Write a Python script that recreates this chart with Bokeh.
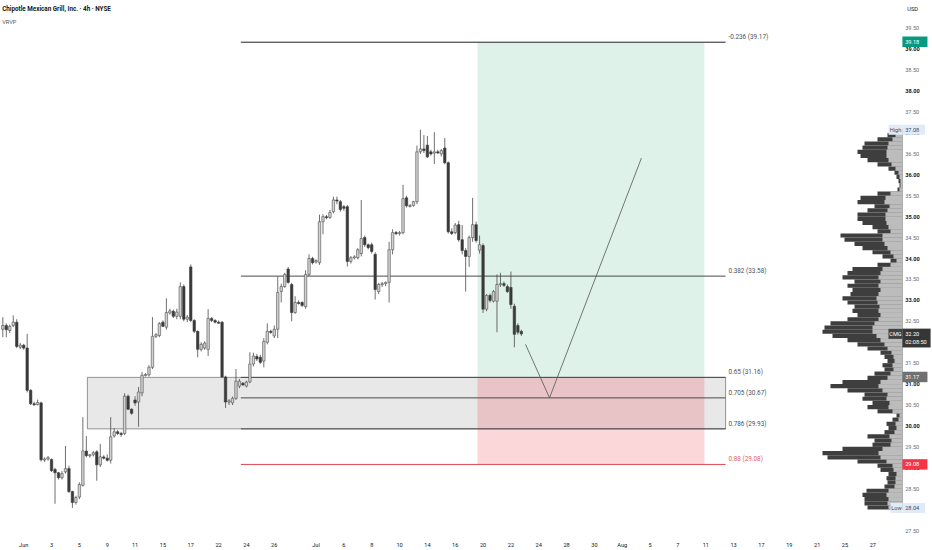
import numpy as np
from bokeh.plotting import figure
from bokeh.models import Range1d, FixedTicker
from bokeh.core.properties import value
from bokeh.embed import file_html
from bokeh.resources import INLINE

FONT = "Roboto"

# ---------------- data: 4h candles (bar 0 = first bar of Jun 1) ----------------
first_bar = -6
opens = [
    32.31, 32.40, 32.28, 32.40, 32.48, 31.88, 31.93, 31.86, 30.85, 30.53,
    30.51, 30.55, 29.19, 29.21, 29.20, 28.96, 28.88, 28.76, 28.90, 28.98,
    28.43, 28.17, 28.30, 28.58, 29.40, 29.29, 29.31, 29.38, 29.07, 29.26,
    29.23, 29.18, 29.76, 29.86, 29.82, 29.82, 30.71, 30.40, 30.62, 30.57,
    30.79, 31.21, 31.22, 31.40, 32.14, 32.16, 32.48, 32.36, 32.70, 32.74,
    32.62, 32.62, 33.33, 32.55, 33.80, 32.52, 32.26, 31.83, 31.86, 31.83,
    32.57, 32.52, 32.48, 32.48, 31.17, 30.57, 30.55, 30.66, 30.95, 31.02,
    30.95, 31.05, 31.48, 31.66, 31.64, 31.55, 32.00, 32.26, 32.15, 32.31,
    33.21, 33.33, 33.75, 33.38, 32.71, 32.95, 32.95, 32.85, 33.62, 34.00,
    33.92, 33.90, 34.88, 35.00, 34.98, 35.12, 35.40, 35.36, 35.24, 35.24,
    33.93, 34.02, 34.02, 34.12, 34.50, 34.33, 34.33, 34.10, 33.21, 33.38,
    33.40, 33.43, 34.21, 34.62, 34.60, 34.62, 35.45, 35.26, 35.27, 35.36,
    36.55, 36.62, 36.71, 36.55, 36.52, 36.55, 36.50, 36.64, 36.29, 34.64,
    34.62, 34.81, 34.45, 34.19, 34.05, 34.50, 34.81, 34.20, 34.31, 32.79,
    33.12, 32.98, 32.98, 33.38, 33.40, 33.33, 33.31, 32.86, 32.40, 32.26,
]
highs = [
    32.60, 32.45, 32.42, 32.64, 32.55, 31.98, 31.96, 32.20, 30.88, 30.58,
    30.63, 30.58, 29.25, 29.28, 29.22, 29.00, 28.90, 28.92, 29.52, 29.05,
    28.45, 28.33, 28.65, 30.21, 29.76, 29.33, 29.40, 29.42, 29.57, 29.30,
    29.32, 30.21, 29.95, 29.90, 29.86, 30.78, 30.75, 30.42, 30.71, 30.93,
    31.29, 31.26, 31.45, 32.60, 32.22, 32.48, 32.52, 33.05, 32.80, 32.78,
    32.80, 33.43, 33.38, 32.65, 33.86, 32.55, 32.28, 32.00, 32.02, 32.79,
    32.60, 32.55, 32.52, 32.50, 31.20, 30.64, 30.70, 31.36, 31.12, 31.05,
    31.08, 31.76, 31.75, 31.72, 31.70, 32.10, 32.45, 32.30, 32.40, 33.57,
    33.40, 33.66, 33.80, 33.42, 33.10, 33.00, 32.98, 33.72, 34.10, 34.04,
    33.98, 35.05, 35.06, 35.04, 35.16, 35.48, 35.48, 35.40, 35.28, 35.28,
    34.06, 34.08, 34.25, 35.40, 34.55, 34.36, 34.38, 34.15, 33.42, 33.44,
    33.45, 34.40, 34.70, 34.66, 34.66, 35.76, 35.50, 35.30, 35.38, 36.70,
    37.08, 36.95, 36.93, 36.60, 37.02, 36.60, 36.62, 36.88, 36.32, 34.72,
    34.85, 34.90, 34.80, 34.25, 34.55, 35.45, 34.88, 34.55, 34.36, 33.15,
    33.16, 33.25, 33.62, 33.66, 33.45, 33.38, 33.69, 32.92, 32.45, 32.30,
]
lows = [
    32.12, 32.12, 32.22, 32.36, 31.86, 31.84, 31.82, 30.80, 30.50, 30.48,
    30.49, 29.15, 29.14, 29.17, 28.90, 28.14, 28.72, 28.72, 28.86, 28.40,
    28.04, 28.12, 28.25, 28.55, 29.25, 29.24, 29.27, 28.69, 29.02, 29.20,
    29.15, 29.10, 29.72, 29.78, 29.74, 29.78, 30.38, 30.27, 30.48, 29.98,
    30.71, 31.18, 31.18, 31.36, 32.10, 32.12, 32.36, 32.30, 32.66, 32.58,
    32.55, 32.55, 32.50, 32.48, 32.48, 32.22, 31.64, 31.78, 31.82, 31.67,
    32.48, 32.45, 32.44, 31.15, 30.43, 30.50, 30.50, 30.62, 30.90, 30.96,
    30.92, 31.02, 31.42, 31.55, 31.48, 31.40, 31.95, 32.20, 32.10, 32.10,
    32.95, 33.30, 33.40, 32.50, 32.68, 32.90, 32.84, 32.80, 33.58, 33.86,
    33.88, 33.85, 34.58, 34.94, 34.95, 35.08, 35.30, 35.12, 35.14, 33.81,
    33.88, 33.98, 33.98, 34.05, 34.28, 34.22, 34.12, 33.02, 33.15, 33.32,
    33.34, 32.95, 34.10, 34.56, 34.55, 34.58, 35.22, 35.22, 35.24, 35.30,
    36.50, 36.52, 36.40, 36.46, 36.26, 36.50, 36.44, 36.25, 34.60, 34.56,
    34.58, 34.40, 34.10, 33.21, 33.80, 34.40, 34.38, 34.12, 32.70, 32.74,
    32.95, 32.95, 32.24, 33.32, 33.32, 33.18, 32.80, 31.88, 32.18, 32.15,
]
closes = [
    32.40, 32.30, 32.38, 32.48, 31.90, 31.93, 31.86, 30.85, 30.53, 30.51,
    30.56, 29.19, 29.21, 29.24, 28.93, 28.88, 28.76, 28.86, 28.98, 28.43,
    28.17, 28.29, 28.60, 29.40, 29.29, 29.31, 29.36, 29.07, 29.26, 29.23,
    29.18, 29.74, 29.86, 29.82, 29.80, 30.71, 30.40, 30.30, 30.55, 30.81,
    31.21, 31.23, 31.40, 32.14, 32.18, 32.45, 32.38, 32.71, 32.75, 32.62,
    32.72, 33.33, 32.55, 32.60, 32.52, 32.26, 31.83, 31.95, 31.98, 32.57,
    32.52, 32.48, 32.47, 31.17, 30.57, 30.60, 30.66, 31.07, 31.07, 30.98,
    31.05, 31.48, 31.67, 31.60, 31.52, 32.02, 32.26, 32.24, 32.31, 33.19,
    33.33, 33.62, 33.43, 32.71, 32.95, 32.93, 32.88, 33.62, 34.00, 33.90,
    33.95, 34.88, 35.00, 34.98, 35.10, 35.40, 35.38, 35.17, 35.20, 33.93,
    34.02, 34.04, 34.21, 34.48, 34.33, 34.26, 34.17, 33.26, 33.38, 33.40,
    33.43, 34.21, 34.62, 34.60, 34.62, 35.43, 35.26, 35.27, 35.36, 36.55,
    36.62, 36.58, 36.43, 36.50, 36.55, 36.53, 36.58, 36.29, 34.64, 34.60,
    34.80, 34.45, 34.19, 34.05, 34.50, 34.81, 34.43, 34.33, 32.79, 33.12,
    33.00, 33.21, 33.38, 33.40, 33.36, 33.21, 32.90, 32.19, 32.24, 32.20,
]

# time axis (trading-day index from Jun 1, 4 bars per day)
bars_per_day = 4
tick_days = [0, 2, 4, 6, 8, 10, 12, 14, 16, 18, 21, 23, 25, 27, 29, 31, 33, 35,
             37, 39, 41, 43, 45, 47, 49, 51, 53, 55, 57, 59, 61]
tick_labels = ["Jun", "3", "5", "9", "11", "15", "17", "22", "24", "26", "Jul",
               "6", "8", "10", "14", "16", "20", "22", "24", "28", "30", "Aug",
               "5", "7", "11", "13", "17", "19", "21", "25", "27"]

# price scale
price_ticks = [27.5, 28.0, 28.5, 29.0, 29.5, 30.0, 30.5, 31.0, 31.5, 32.0, 32.5,
               33.0, 33.5, 34.0, 34.5, 35.0, 35.5, 36.0, 36.5, 37.0, 37.5, 38.0,
               38.5, 39.0, 39.5]

# fibonacci retracement
fib_names = ["-0.236", "0.382", "0.65", "0.705", "0.786", "0.88"]
fib_levels = [39.17, 33.58, 31.16, 30.67, 29.93, 29.08]

# long position tool
target_price = 39.17
entry_price = 31.16
stop_price = 29.08

# projected path (bar, price)
proj_bars = [144.2, 151.1, 177.5]
proj_prices = [31.95, 30.67, 36.40]

# visible range volume profile (0.10 rows from 28.0)
vp_total = [35, 38, 38, 40, 36, 18, 15, 16, 14, 22,
            25, 45, 75, 80, 60, 30, 28, 35, 18, 14,
            16, 10, 6, 25, 35, 30, 40, 38, 55, 72,
            60, 35, 28, 18, 20, 15, 18, 22, 35, 45,
            55, 70, 80, 78, 72, 55, 45, 50, 48, 55,
            60, 52, 50, 55, 48, 60, 55, 50, 25, 12,
            20, 30, 40, 48, 58, 62, 25, 30, 40, 45,
            45, 35, 28, 45, 42, 25, 5, 3, 4, 6,
            8, 14, 25, 35, 42, 45, 40, 38, 25, 15, 8]
vp_up = [14, 15, 14, 16, 14, 8, 7, 7, 6, 9,
         10, 16, 22, 24, 20, 12, 11, 13, 8, 6,
         7, 4, 3, 10, 14, 13, 16, 15, 20, 24,
         22, 15, 12, 9, 10, 8, 9, 11, 15, 18,
         22, 26, 30, 30, 28, 24, 22, 24, 23, 25,
         26, 24, 22, 24, 22, 24, 22, 20, 12, 6,
         9, 12, 15, 18, 20, 20, 12, 14, 16, 17,
         17, 15, 13, 18, 17, 12, 3, 2, 2, 3,
         4, 7, 11, 14, 16, 16, 15, 14, 10, 7, 4]

last_price = 32.20
high_price = 37.08
low_price = 28.04

# ---------------- layout anchors (bar units) ----------------
zone_start_bar = 18.3
fib_start_bar = 62.4
drawing_end_bar = 201.7
pos_start_bar = 130.4
pos_end_bar = 195.6
fib_label_bar = 202.5
scale_bar = 253.3
scale_left = 252.5
scale_right = 259.7
tag_left = 248.5

o = np.array(opens); h = np.array(highs); l = np.array(lows); c = np.array(closes)
bars = np.arange(first_bar, first_bar + len(o))

p = figure(width=932, height=550,
           x_range=Range1d(-6.667, 261.15), y_range=Range1d(27.405, 40.167),
           output_backend="svg", toolbar_location=None, y_axis_location=None,
           min_border_left=0, min_border_right=0, min_border_top=0,
           min_border_bottom=14, outline_line_color=None,
           background_fill_color="white", border_fill_color="white")
p.grid.visible = False

ax = p.xaxis[0]
tick_pos = [d * bars_per_day for d in tick_days]
ax.ticker = FixedTicker(ticks=tick_pos)
ax.major_label_overrides = {t: s for t, s in zip(tick_pos, tick_labels)}
ax.axis_line_color = None
ax.major_tick_line_color = None
ax.minor_tick_line_color = None
ax.major_label_standoff = 1
ax.major_label_text_font = FONT
ax.major_label_text_font_size = "5.6px"
ax.major_label_text_color = "#131722"

# zone box
p.quad(left=[zone_start_bar], right=[drawing_end_bar], bottom=[fib_levels[4]],
       top=[fib_levels[2]], fill_color="#e8e8e8", line_color="#7a7a7a", line_width=0.8)
# long position
p.quad(left=[pos_start_bar], right=[pos_end_bar], bottom=[entry_price], top=[target_price],
       fill_color="#22ab6e", fill_alpha=0.15, line_color=None)
p.quad(left=[pos_start_bar], right=[pos_end_bar], bottom=[stop_price], top=[entry_price],
       fill_color="#f23645", fill_alpha=0.2, line_color=None)

# fib lines
fib_colors = ["#222222", "#4a4a4a", "#4a4a4a", "#4a4a4a", "#4a4a4a", "#e0454f"]
p.segment(x0=[fib_start_bar] * 6, x1=[drawing_end_bar] * 6, y0=fib_levels, y1=fib_levels,
          line_color=fib_colors, line_width=1)
fib_text = [f"{n} ({v:.2f})" for n, v in zip(fib_names, fib_levels)]
fib_tcol = ["#4c525e"] * 5 + ["#e5606b"]
p.text(x=[fib_label_bar] * 6, y=fib_levels, text=fib_text, text_color=fib_tcol,
       text_font=value(FONT), text_font_size="6.4px", text_align="left",
       text_baseline="bottom", y_offset=-1)

# volume profile
p.extra_x_ranges = {"vp": Range1d(902, -30)}
vp_centers = np.round(28.05 + 0.1 * np.arange(len(vp_total)), 2)
p.hbar(y=vp_centers, height=0.1, left=0, right=vp_total, x_range_name="vp",
       fill_color="#3e3e3e", line_color=None)
p.hbar(y=vp_centers, height=0.1, left=0, right=vp_up, x_range_name="vp",
       fill_color="#bcbcbc", line_color=None)

# candles
p.segment(x0=bars, y0=h, x1=bars, y1=l, line_color="#4a4a4a", line_width=0.8)
top = np.maximum(o, c); bot = np.minimum(o, c)
bot = np.where(top - bot < 0.025, top - 0.025, bot)
up = c >= o
p.vbar(x=bars[up], top=top[up], bottom=bot[up], width=0.7,
       fill_color="#d2d2d2", line_color="#4f4f4f", line_width=0.6)
p.vbar(x=bars[~up], top=top[~up], bottom=bot[~up], width=0.7,
       fill_color="#3a3a3a", line_color="#3a3a3a", line_width=0.6)

# projection path
p.line(proj_bars, proj_prices, line_color="#555555", line_width=0.8)

# title
p.text(x=[-6.2], y=[39.952], text=["Chipotle Mexican Grill, Inc. · 4h · NYSE"],
       text_font=value(FONT), text_font_size="6.3px", text_font_style="bold",
       text_color="#131722", text_baseline="middle")
p.text(x=[-6.2], y=[39.643], text=["VRVP"], text_font=value(FONT),
       text_font_size="5.7px", text_color="#555555", text_baseline="middle")

# price scale
maj = [t for t in price_ticks if float(t).is_integer()]
mnr = [t for t in price_ticks if not float(t).is_integer()]
p.text(x=[scale_bar] * len(maj), y=maj, text=[f"{t:.2f}" for t in maj],
       text_font=value(FONT), text_font_size="5.6px", text_font_style="bold",
       text_color="#131722", text_baseline="middle")
p.text(x=[scale_bar] * len(mnr), y=mnr, text=[f"{t:.2f}" for t in mnr],
       text_font=value(FONT), text_font_size="5.6px",
       text_color="#6a6d78", text_baseline="middle")
p.text(x=[scale_bar + 0.6], y=[39.952], text=["USD"], text_font=value(FONT),
       text_font_size="5.7px", text_color="#131722", text_baseline="middle")


def tag(left, right, y, h, bg, lines, fg, align="left", tx=None):
    p.quad(left=[left], right=[right], bottom=[y - h / 2], top=[y + h / 2],
           fill_color=bg, line_color=None)
    n = len(lines)
    for i, s in enumerate(lines):
        yy = y + (n - 1) * 0.1 - i * 0.2
        xx = tx if tx is not None else (left + 0.8 if align == "left" else (left + right) / 2)
        p.text(x=[xx], y=[yy], text=[s], text_font=value(FONT), text_font_size="5.6px",
               text_color=fg, text_align=align, text_baseline="middle")


tag(scale_left, scale_right, 39.18, 0.25, "#089981", ["39.18"], "#ffffff")
tag(tag_left, scale_left, high_price, 0.24, "#e1ebf7", ["High"], "#3d4a5c", align="center")
tag(scale_left, scale_right - 0.7, high_price, 0.24, "#e1ebf7", [f"{high_price:.2f}"], "#3d4a5c")
tag(tag_left, scale_left, last_price, 0.24, "#404040", ["CMG"], "#ffffff", align="center")
tag(scale_left, 260.6, last_price - 0.1, 0.45, "#363636",
    [f"{last_price:.2f}", "02:08:50"], "#ffffff")
tag(scale_left, scale_right, entry_price + 0.01, 0.25, "#707070", ["31.17"], "#ffffff")
tag(scale_left, scale_right, stop_price, 0.25, "#f23645", [f"{stop_price:.2f}"], "#ffffff")
tag(tag_left + 0.6, scale_left, low_price, 0.24, "#e1ebf7", ["Low"], "#3d4a5c", align="center")
tag(scale_left, scale_right - 0.7, low_price, 0.24, "#e1ebf7", [f"{low_price:.2f}"], "#3d4a5c")

open("out.html", "w").write(file_html(p, INLINE))
